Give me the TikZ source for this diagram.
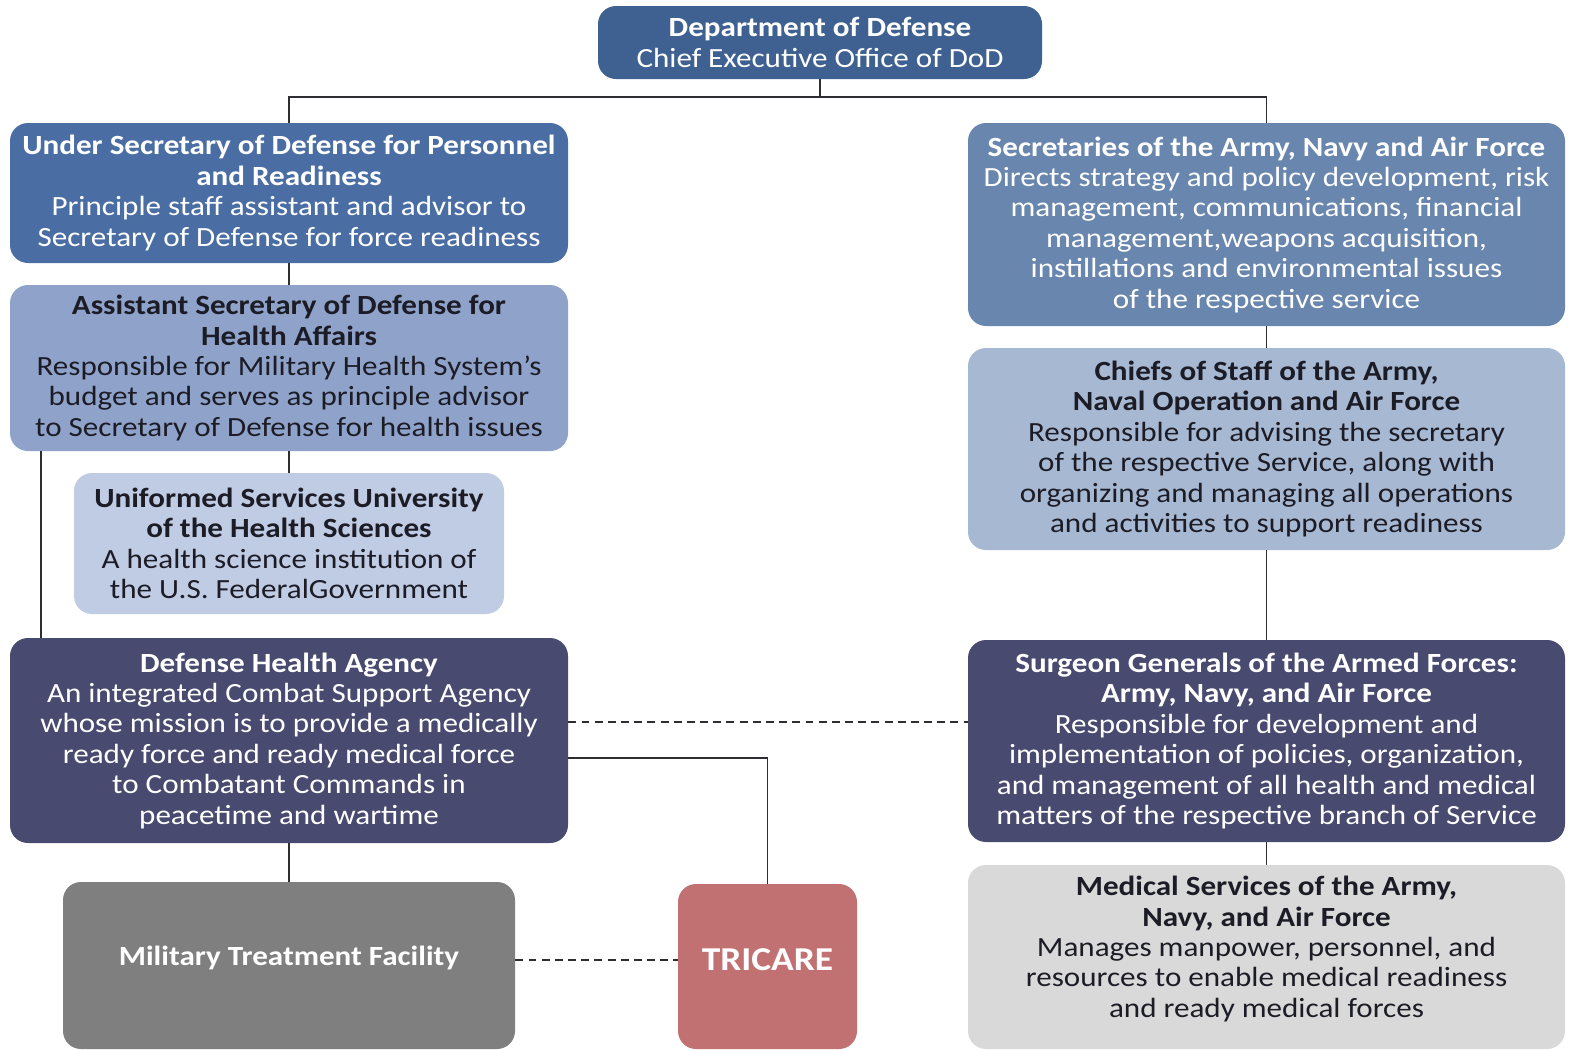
\documentclass[tikz,border=0pt]{standalone}
\usepackage{fontspec}
\setmainfont{Carlito}[FakeStretch=1.12]
\usetikzlibrary{calc}
\usepackage{xcolor}
\definecolor{dodblue}{RGB}{62,97,146}
\definecolor{usdblue}{RGB}{74,110,164}
\definecolor{asdblue}{RGB}{143,163,202}
\definecolor{usublue}{RGB}{192,203,228}
\definecolor{dhaslate}{RGB}{72,74,111}
\definecolor{mtfgray}{RGB}{127,127,127}
\definecolor{trired}{RGB}{194,113,114}
\definecolor{secblue}{RGB}{104,134,174}
\definecolor{chfblue}{RGB}{167,184,210}
\definecolor{medgray}{RGB}{217,217,217}
\definecolor{linegray}{RGB}{45,45,50}
\definecolor{darktext}{RGB}{28,28,38}
\tikzset{
 txt/.style={inner sep=0pt, align=center, font=\fontsize{15.8}{17.3}\selectfont},
 box/.style 2 args={txt, rounded corners=0.36cm, minimum width=#1*0.02cm, minimum height=#2*0.02cm},
 link/.style={draw=linegray, line width=1.1pt},
 dlink/.style={link, dash pattern=on 4.5pt off 3pt},
}

\begin{document}
\begin{tikzpicture}[x=0.02cm,y=-0.02cm]
\useasboundingbox (0,0) rectangle (1589,1049);
% top
\node[box={444}{73}, fill=dodblue, text=white] (dod) at (820,42.5)
 {\textbf{Department of Defense}\\Chief Executive Office of DoD};
% left column
\node[box={558}{140}, fill=usdblue, text=white] (usd) at (289,193)
 {\textbf{Under Secretary of Defense for Personnel}\\\textbf{and Readiness}\\
  Principle staff assistant and advisor to\\Secretary of Defense for force readiness};
\node[box={558}{166}, fill=asdblue, text=darktext] (asd) at (289,368)
 {\textbf{Assistant Secretary of Defense for}\\\textbf{Health Affairs}\\
  Responsible for Military Health System’s\\budget and serves as principle advisor\\
  to Secretary of Defense for health issues};
\node[box={430}{141}, fill=usublue, text=darktext] (usu) at (289,543.5)
 {\textbf{Uniformed Services University}\\\textbf{of the Health Sciences}\\
  A health science institution of\\the U.S. FederalGovernment};
\node[box={558}{205}, fill=dhaslate, text=white] (dha) at (289,740.5)
 {\textbf{Defense Health Agency}\\An integrated Combat Support Agency\\
  whose mission is to provide a medically\\ready force and ready medical force\\
  to Combatant Commands in\\peacetime and wartime};
% bottom row, boxes run to the lower edge
\node[box={452}{167}, fill=mtfgray,
 label={[txt, text=white, yshift=0.15cm]center:\textbf{Military Treatment Facility}}] (mtf) at (289,965.5) {};
\node[box={179}{165}, fill=trired,
 label={[txt, text=white, yshift=0.13cm, font=\fontsize{19}{22}\selectfont]center:\textbf{TRICARE}}] (tri) at (767.5,966.5) {};
% right column
\node[box={597}{203}, fill=secblue, text=white] (sec) at (1266.5,224.5)
 {\textbf{Secretaries of the Army, Navy and Air Force}\\
  Directs strategy and policy development, risk\\management, communications, financial\\
  management,weapons acquisition,\\instillations and environmental issues\\of the respective service};
\node[box={597}{202}, fill=chfblue, text=darktext] (chf) at (1266.5,449)
 {\textbf{Chiefs of Staff of the Army,}\\\textbf{Naval Operation and Air Force}\\
  Responsible for advising the secretary\\of the respective Service, along with\\
  organizing and managing all operations\\and activities to support readiness};
\node[box={597}{202}, fill=dhaslate, text=white] (srg) at (1266.5,741)
 {\textbf{Surgeon Generals of the Armed Forces:}\\\textbf{Army, Navy, and Air Force}\\
  Responsible for development and\\implementation of policies, organization,\\
  and management of all health and medical\\matters of the respective branch of Service};
\node[box={597}{184}, fill=medgray,
 label={[txt, text=darktext, yshift=0.16cm]center:{\textbf{Medical Services of the Army,}\\\textbf{Navy, and Air Force}\\
  Manages manpower, personnel, and\\resources to enable medical readiness\\and ready medical forces}}] (med) at (1266.5,957) {};
% connectors
\coordinate (spine) at (820,97);
\draw[link] (dod.south) -- (spine);
\draw[link] (usd.north) |- (sec.north |- spine) -- (sec.north);
\draw[link] (usd.south) -- (asd.north);
\draw[link] (asd.south) -- (usu.north);
\draw[link] ([xshift=0.62cm]asd.south west) -- ([xshift=0.62cm]dha.north west);
\draw[link] (dha.south) -- (mtf.north);
\draw[link] ([yshift=-0.35cm]dha.east) -| (tri.north);
\coordinate (dhadash) at ([yshift=0.37cm]dha.east);
\draw[dlink] (dhadash) -- (dhadash -| srg.west);
\coordinate (mtfdash) at ([yshift=0.11cm]mtf.east);
\draw[dlink] (mtfdash) -- (mtfdash -| tri.west);
\draw[link] (sec.south) -- (chf.north);
\draw[link] (chf.south) -- (srg.north);
\draw[link] (srg.south) -- (med.north);
\end{tikzpicture}
\end{document}
